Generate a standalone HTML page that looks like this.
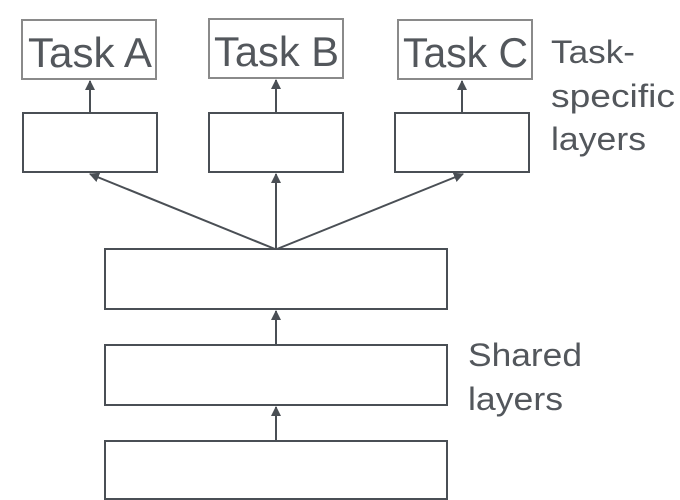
<!DOCTYPE html>
<html><head><style>html,body{margin:0;padding:0;background:#fff;}</style></head>
<body>
<svg width="680" height="500" viewBox="0 0 680 500" xmlns="http://www.w3.org/2000/svg" style="display:block">
<defs>
<marker id="ah" markerWidth="10" markerHeight="10" refX="9" refY="5" orient="auto" markerUnits="userSpaceOnUse">
<path d="M0,0 L10,5 L0,10 z" fill="#4a4f55"/>
</marker>
</defs>
<g fill="none" stroke="#8a8a8a" stroke-width="2">
<rect x="22" y="20" width="134" height="59"/>
<rect x="209" y="19" width="134" height="59"/>
<rect x="398" y="20" width="134" height="59"/>
</g>
<g fill="none" stroke="#4a4f55" stroke-width="2">
<rect x="23" y="113" width="134" height="59"/>
<rect x="209" y="113" width="134" height="59"/>
<rect x="395" y="113" width="134" height="59"/>
<rect x="105" y="249" width="342" height="60"/>
<rect x="105" y="345" width="342" height="60"/>
<rect x="105" y="441" width="342" height="58"/>
<line x1="90" y1="113" x2="90" y2="81" marker-end="url(#ah)"/>
<line x1="276" y1="113" x2="276" y2="80" marker-end="url(#ah)"/>
<line x1="462" y1="113" x2="462" y2="81" marker-end="url(#ah)"/>
<line x1="275" y1="249" x2="90" y2="174" marker-end="url(#ah)"/>
<line x1="276" y1="249" x2="276" y2="174" marker-end="url(#ah)"/>
<line x1="277" y1="249" x2="463" y2="174" marker-end="url(#ah)"/>
<line x1="276" y1="345" x2="276" y2="311" marker-end="url(#ah)"/>
<line x1="276" y1="441" x2="276" y2="407" marker-end="url(#ah)"/>
</g>
<g font-family="Liberation Sans, sans-serif" fill="#53575c" font-size="42">
<text x="28" y="67" textLength="124" lengthAdjust="spacingAndGlyphs">Task A</text>
<text x="214" y="66" textLength="125" lengthAdjust="spacingAndGlyphs">Task B</text>
<text x="403" y="67" textLength="125" lengthAdjust="spacingAndGlyphs">Task C</text>
</g>
<g font-family="Liberation Sans, sans-serif" fill="#53575c" font-size="32">
<text x="551" y="63" textLength="84" lengthAdjust="spacingAndGlyphs">Task-</text>
<text x="551" y="107" textLength="124" lengthAdjust="spacingAndGlyphs">specific</text>
<text x="551" y="150" textLength="95" lengthAdjust="spacingAndGlyphs">layers</text>
<text x="468" y="366" textLength="114" lengthAdjust="spacingAndGlyphs">Shared</text>
<text x="468" y="410" textLength="95" lengthAdjust="spacingAndGlyphs">layers</text>
</g>
</svg>
</body></html>
